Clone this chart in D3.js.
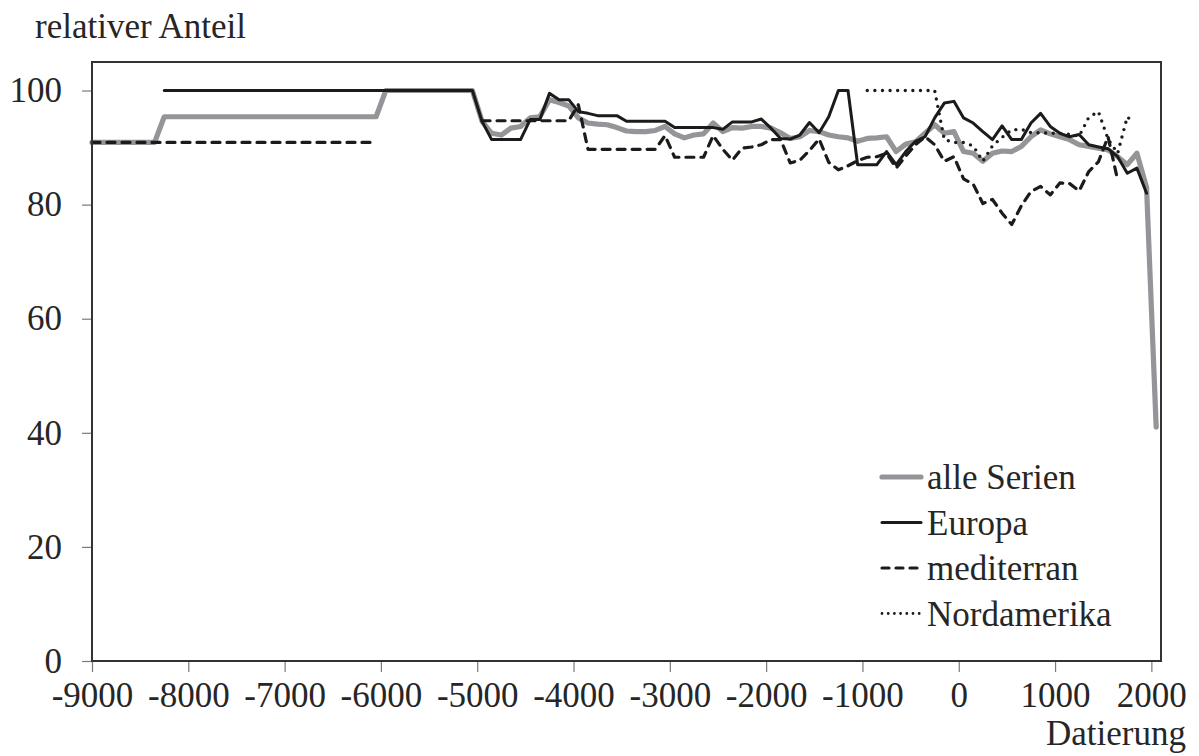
<!DOCTYPE html>
<html>
<head>
<meta charset="utf-8">
<script src="https://cdn.jsdelivr.net/npm/d3@7"></script>
<style>
  html, body { margin: 0; padding: 0; background: #fff; }
  svg text { font-family: "Liberation Serif", "Times New Roman", serif; fill: #262626; }
</style>
</head>
<body>
<svg id="chart" width="1199" height="756"></svg>
<script>
// ---- data -------------------------------------------------------------
const xTicks = [-9000, -8000, -7000, -6000, -5000, -4000, -3000, -2000, -1000, 0, 1000, 2000];
const yTicks = [0, 20, 40, 60, 80, 100];

const seriesNames = ["alle Serien", "Europa", "mediterran", "Nordamerika"];

const alleYears = [-9000, -8350, -8250, -6050, -5950, -5050,
  -4950, -4850, -4750, -4650, -4550, -4450, -4350, -4250, -4150, -4050,
  -3950, -3850, -3750, -3650, -3550, -3450, -3350, -3250, -3150, -3050,
  -2950, -2850, -2750, -2650, -2550, -2450, -2350, -2250, -2150, -2050,
  -1950, -1850, -1750, -1650, -1550, -1450, -1350, -1250, -1150, -1050,
  -950, -850, -750, -650, -550, -450, -350, -250, -150, -50,
  50, 150, 250, 350, 450, 550, 650, 750, 850, 950,
  1050, 1150, 1250, 1350, 1450, 1550, 1650, 1750, 1850, 1950, 2050];
const alleValues = [90.9, 90.9, 95.4, 95.4, 100, 100,
  94.6, 92.5, 92.2, 93.4, 93.7, 95.2, 95.4, 98.4, 97.9, 97.3,
  95.2, 94.3, 94.1, 94.0, 93.5, 92.9, 92.8, 92.8, 93.0, 93.7,
  92.4, 91.7, 92.2, 92.4, 94.3, 92.8, 93.5, 93.4, 93.7, 93.7,
  93.4, 92.6, 91.6, 91.9, 93.0, 92.8, 92.2, 91.9, 91.7, 91.1,
  91.6, 91.7, 91.9, 89.3, 90.6, 91.0, 92.5, 94.0, 92.5, 92.8,
  89.3, 89.0, 87.6, 89.0, 89.4, 89.3, 90.2, 91.9, 93.1, 92.4,
  91.9, 91.4, 90.5, 90.2, 89.9, 89.6, 88.4, 87.0, 89.0, 83.0, 41.0];

const europaYears = [-8250, -5050,
  -4950, -4850, -4750, -4650, -4550, -4450, -4350, -4250, -4150, -4050,
  -3950, -3850, -3750, -3650, -3550, -3450, -3350, -3250, -3150, -3050,
  -2950, -2850, -2750, -2650, -2550, -2450, -2350, -2250, -2150, -2050,
  -1950, -1850, -1750, -1650, -1550, -1450, -1350, -1250, -1150, -1050,
  -950, -850, -750, -650, -550, -450, -350, -250, -150, -50,
  50, 150, 250, 350, 450, 550, 650, 750, 850, 950,
  1050, 1150, 1250, 1350, 1450, 1550, 1650, 1750, 1850, 1950];
const europaValues = [100, 100,
  94.6, 91.4, 91.4, 91.4, 91.4, 94.9, 94.9, 99.5, 98.4, 98.4,
  96.3, 96.0, 95.6, 95.6, 95.6, 94.6, 94.6, 94.6, 94.6, 94.6,
  93.5, 93.5, 93.5, 93.5, 93.5, 93.2, 94.5, 94.5, 94.5, 95.0,
  93.4, 91.6, 91.5, 92.2, 94.4, 92.6, 95.4, 100, 100, 87.0,
  87.0, 87.0, 89.3, 87.0, 89.3, 91.1, 91.9, 95.2, 97.8, 98.1,
  95.2, 94.3, 92.8, 91.4, 93.8, 91.4, 91.4, 94.3, 96.0, 93.7,
  92.5, 91.9, 92.3, 90.5, 90.1, 89.8, 88.4, 85.5, 86.4, 82.0];

// null marks the gap in the record between -6050 and -4950
const mediterranYears = [-9000, -6050, -6000,
  -4950, -4850, -4750, -4650, -4550, -4450, -4350, -4250, -4150, -4050,
  -3950, -3850, -3750, -3650, -3550, -3450, -3350, -3250, -3150, -3050,
  -2950, -2850, -2750, -2650, -2550, -2450, -2350, -2250, -2150, -2050,
  -1950, -1850, -1750, -1650, -1550, -1450, -1350, -1250, -1150, -1050,
  -950, -850, -750, -650, -550, -450, -350, -250, -150, -50,
  50, 150, 250, 350, 450, 550, 650, 750, 850, 950,
  1050, 1150, 1250, 1350, 1450, 1550, 1650];
const mediterranValues = [90.9, 90.9, null,
  94.7, 94.7, 94.7, 94.7, 94.7, 94.7, 94.7, 94.7, 94.7, 94.7,
  97.5, 89.7, 89.7, 89.7, 89.7, 89.7, 89.7, 89.7, 89.7, 92.1,
  88.3, 88.3, 88.3, 88.3, 92.1, 89.7, 87.8, 89.9, 90.1, 90.5,
  91.4, 91.4, 87.3, 87.8, 89.5, 91.5, 87.4, 86.1, 86.8, 87.7,
  88.3, 88.4, 89.0, 86.4, 88.5, 90.5, 91.9, 90.5, 87.6, 88.4,
  84.5, 83.6, 80.2, 80.9, 78.5, 76.5, 79.8, 82.3, 83.2, 81.7,
  83.8, 83.7, 82.4, 85.8, 87.5, 91.9, 84.3];

const nordamerikaYears = [-950, -250, -150, -50,
  50, 150, 250, 350, 450, 550, 650, 750, 850, 950,
  1050, 1150, 1250, 1350, 1450, 1550, 1650, 1750, 1800];
const nordamerikaValues = [100, 100, 91.4, 90.9,
  90.9, 90.3, 87.6, 90.3, 91.8, 93.1, 93.2, 92.6, 92.6, 92.5,
  92.5, 92.3, 92.0, 95.3, 96.3, 91.5, 89.0, 95.4, 94.6];

// ---- layout -----------------------------------------------------------
const svg = d3.select("#chart");
const plot = { left: 92, right: 1161, top: 62, bottom: 661 };
const fontSize = 35;
const fontFamily = '"Liberation Serif", "Times New Roman", serif';

const x = d3.scaleLinear().domain([-9000, 2100]).range([plot.left, plot.right]);
const y = d3.scaleLinear().domain([0, 105]).range([plot.bottom, plot.top]);

const styles = [
  { stroke: "#939598", width: 5.2, dash: null,    legendDash: null },
  { stroke: "#1b1b1b", width: 3,   dash: null,    legendDash: null },
  { stroke: "#1b1b1b", width: 3.2, dash: "8,7",   legendDash: "7,7" },
  { stroke: "#1b1b1b", width: 3.4, dash: "0,7.6", legendDash: "0,6.2" }
];

const series = [
  [alleYears, alleValues],
  [europaYears, europaValues],
  [mediterranYears, mediterranValues],
  [nordamerikaYears, nordamerikaValues]
].map(([yrs, vals], i) => ({
  name: seriesNames[i],
  style: styles[i],
  points: yrs.map((t, j) => ({ t, v: vals[j] }))
}));

// ---- axes -------------------------------------------------------------
const tickColor = "#7a7a7a";
const plainNumber = d => String(d);   // keep the ASCII hyphen for negative years

const yAxis = d3.axisLeft(y).tickValues(yTicks).tickSize(10).tickPadding(20).tickFormat(plainNumber);
const gy = svg.append("g").attr("transform", `translate(${plot.left},0)`).call(yAxis);
gy.attr("font-family", fontFamily);
gy.select(".domain").remove();
gy.selectAll(".tick line").attr("stroke", tickColor).attr("stroke-width", 1.2);
gy.selectAll(".tick text").attr("font-size", fontSize).attr("fill", "#262626");

const xAxis = d3.axisBottom(x).tickValues(xTicks).tickSize(11).tickPadding(23).tickFormat(plainNumber);
const gx = svg.append("g").attr("transform", `translate(0,${plot.bottom})`).call(xAxis);
gx.attr("font-family", fontFamily);
gx.select(".domain").remove();
gx.selectAll(".tick line").attr("stroke", tickColor).attr("stroke-width", 1.2);
gx.selectAll(".tick text").attr("font-size", fontSize).attr("fill", "#262626")
  .attr("dy", "0.35em");

// ---- lines ------------------------------------------------------------
const line = d3.line()
  .defined(d => d.v != null)
  .x(d => x(d.t))
  .y(d => y(d.v));

svg.append("g").selectAll("path")
  .data(series)
  .join("path")
  .attr("d", s => line(s.points))
  .attr("fill", "none")
  .attr("stroke", s => s.style.stroke)
  .attr("stroke-width", s => s.style.width)
  .attr("stroke-dasharray", s => s.style.dash)
  .attr("stroke-linecap", "round")
  .attr("stroke-linejoin", "round");

// plot frame
svg.append("rect")
  .attr("x", plot.left).attr("y", plot.top)
  .attr("width", plot.right - plot.left).attr("height", plot.bottom - plot.top)
  .attr("fill", "none").attr("stroke", "#333").attr("stroke-width", 2);

// ---- titles -----------------------------------------------------------
svg.append("text").attr("x", 35).attr("y", 38)
  .attr("font-size", fontSize).text("relativer Anteil");
svg.append("text").attr("x", 1186).attr("y", 745)
  .attr("text-anchor", "end").attr("font-size", fontSize).text("Datierung");

// ---- legend -----------------------------------------------------------
const legend = svg.append("g").attr("transform", "translate(880,477)");
const rowGap = 45.5;
const item = legend.selectAll("g").data(series).join("g")
  .attr("transform", (d, i) => `translate(0,${i * rowGap})`);
item.append("line")
  .attr("x1", 2).attr("x2", 41).attr("y1", 0).attr("y2", 0)
  .attr("stroke", d => d.style.stroke)
  .attr("stroke-width", d => d.style.legendDash === "0,6.2" ? 2.8 : d.style.width)
  .attr("stroke-dasharray", d => d.style.legendDash)
  .attr("stroke-linecap", "round");
item.append("text")
  .attr("x", 47).attr("y", 0).attr("dy", "0.35em")
  .attr("font-size", fontSize)
  .text(d => d.name);
</script>
</body>
</html>
